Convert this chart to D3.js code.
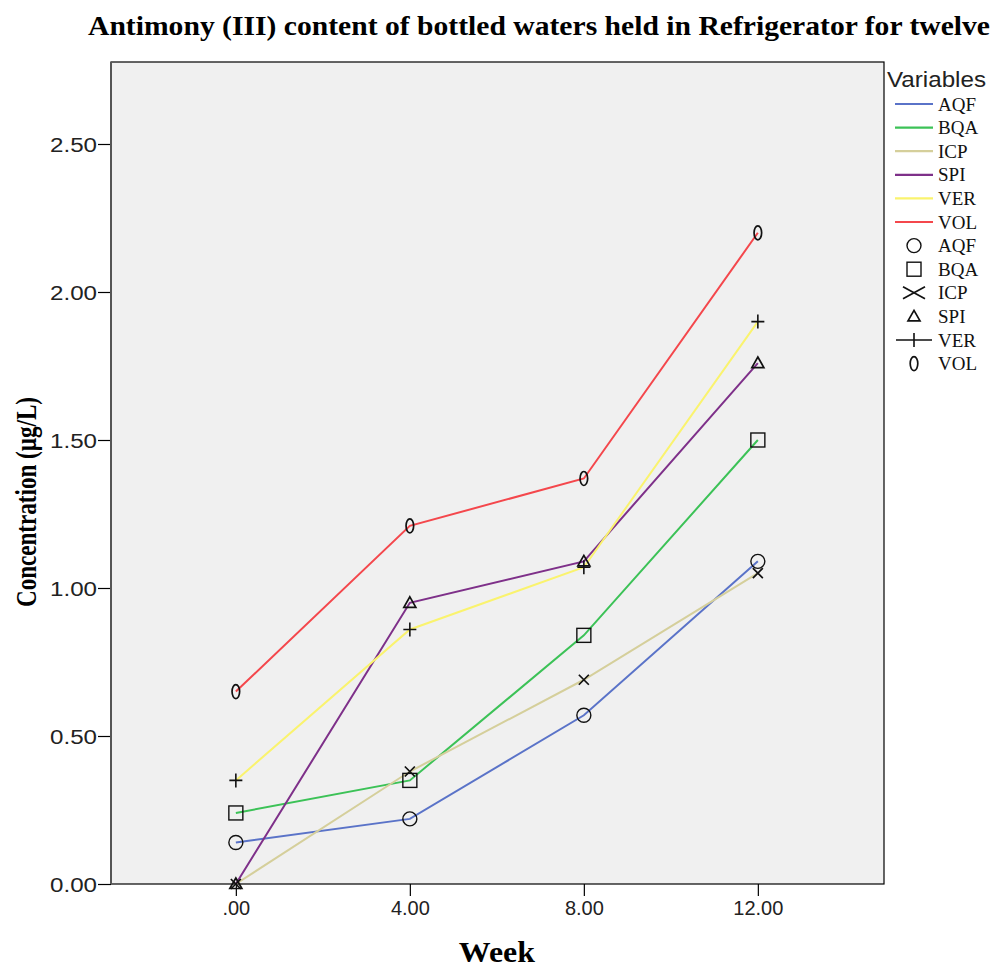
<!DOCTYPE html>
<html>
<head>
<meta charset="utf-8">
<script src="https://cdn.jsdelivr.net/npm/d3@7"></script>
<style>
  html, body { margin: 0; padding: 0; background: #fff; }
  svg { display: block; }
</style>
</head>
<body>
<svg id="chart" width="993" height="967"></svg>
<script>
// ---- data ----
const weeks = [0, 4, 8, 12];
const seriesNames = ["AQF", "BQA", "ICP", "SPI", "VER", "VOL"];
const AQF = [0.14, 0.22, 0.57, 1.09];
const BQA = [0.24, 0.35, 0.84, 1.50];
const ICP = [0.00, 0.38, 0.69, 1.05];
const SPI = [0.00, 0.95, 1.09, 1.76];
const VER = [0.35, 0.86, 1.07, 1.90];
const VOL = [0.65, 1.21, 1.37, 2.20];
const yTicks = [0, 0.5, 1.0, 1.5, 2.0, 2.5];
const xTicks = [0, 4, 8, 12];
const titleText = "Antimony (III) content of bottled waters held in Refrigerator for twelve";

const seriesValues = { AQF, BQA, ICP, SPI, VER, VOL };
const colors = { AQF: "#5a73c8", BQA: "#3cc257", ICP: "#d5cf9b", SPI: "#7e3089", VER: "#faf36e", VOL: "#f4474c" };
const markers = { AQF: "circle", BQA: "square", ICP: "x", SPI: "triangle", VER: "plus", VOL: "zero" };

const serif = "Liberation Serif, Times New Roman, serif";
const sans = "Liberation Sans, Arial, sans-serif";

const svg = d3.select("#chart");
const L = 111, R = 884, T = 62, B = 884;

const x = d3.scaleLinear().domain([-2.87, 14.9]).range([L, R]);
const y = d3.scaleLinear().domain([0, 2.777]).range([B, T]);

// plot background
svg.append("rect").attr("x", L).attr("y", T).attr("width", R - L).attr("height", B - T)
  .attr("fill", "#f0f0f0").attr("stroke", "none");

// title
svg.append("text").attr("x", 88).attr("y", 35)
  .attr("font-family", serif).attr("font-weight", "bold").attr("font-size", 28)
  .attr("textLength", 902).attr("lengthAdjust", "spacingAndGlyphs")
  .text(titleText);

// axes
const yAxis = d3.axisLeft(y).tickValues(yTicks).tickFormat(d3.format(".2f")).tickSize(13).tickPadding(1);
const gy = svg.append("g").attr("transform", `translate(${L},0)`).call(yAxis);
const xAxis = d3.axisBottom(x).tickValues(xTicks)
  .tickFormat(d => d === 0 ? ".00" : d3.format(".2f")(d)).tickSize(12).tickPadding(5);
const gx = svg.append("g").attr("transform", `translate(0,${B})`).call(xAxis);
[gx, gy].forEach(g => {
  g.select(".domain").remove();
  g.selectAll(".tick line").attr("stroke", "#000").attr("stroke-width", 1.2);
  g.selectAll(".tick text").attr("font-family", sans).attr("fill", "#222");
});
gy.selectAll(".tick text").attr("font-size", 20).attr("dy", "0.36em")
  .attr("textLength", 47).attr("lengthAdjust", "spacingAndGlyphs");
gx.selectAll(".tick text").attr("font-size", 20);

// plot border
svg.append("rect").attr("x", L).attr("y", T).attr("width", R - L).attr("height", B - T)
  .attr("fill", "none").attr("stroke", "#000").attr("stroke-width", 1.2);
svg.append("line").attr("x1", L).attr("x2", L).attr("y1", T).attr("y2", B)
  .attr("stroke", "#555").attr("stroke-width", 2);

// axis titles
svg.append("text").attr("x", x(6)).attr("y", 962).attr("text-anchor", "middle")
  .attr("font-family", serif).attr("font-weight", "bold").attr("font-size", 30)
  .attr("textLength", 76).attr("lengthAdjust", "spacingAndGlyphs").text("Week");
svg.append("text").attr("transform", `translate(36,502) rotate(-90)`)
  .attr("text-anchor", "middle")
  .attr("font-family", serif).attr("font-weight", "bold").attr("font-size", 29)
  .attr("textLength", 210).attr("lengthAdjust", "spacingAndGlyphs").text("Concentration (µg/L)");

// lines
const line = d3.line().x((d, i) => x(weeks[i])).y(d => y(d));
const plotG = svg.append("g");
seriesNames.forEach(n => {
  plotG.append("path").datum(seriesValues[n]).attr("d", line)
    .attr("fill", "none").attr("stroke", colors[n]).attr("stroke-width", 2);
});

function drawMarker(g, type, cx, cy, big) {
  const s = "#111", w = 1.4;
  if (type === "circle") {
    g.append("circle").attr("cx", cx).attr("cy", cy).attr("r", 7).attr("fill", "none").attr("stroke", s).attr("stroke-width", w);
  } else if (type === "square") {
    g.append("rect").attr("x", cx - 7).attr("y", cy - 7).attr("width", 14).attr("height", 14).attr("fill", "none").attr("stroke", s).attr("stroke-width", w);
  } else if (type === "x") {
    const a = big ? 11 : 5, b = big ? 6 : 5;
    g.append("path").attr("d", `M${cx - a},${cy - b}L${cx + a},${cy + b}M${cx - a},${cy + b}L${cx + a},${cy - b}`)
      .attr("stroke", s).attr("stroke-width", w + 0.3).attr("fill", "none");
  } else if (type === "triangle") {
    g.append("path").attr("d", `M${cx},${cy - 6}L${cx + 6},${cy + 4.5}L${cx - 6},${cy + 4.5}Z`)
      .attr("fill", "none").attr("stroke", s).attr("stroke-width", w + 0.3);
  } else if (type === "plus") {
    const a = big ? 18 : 6.5;
    g.append("path").attr("d", `M${cx - a},${cy}L${cx + a},${cy}M${cx},${cy - 7}L${cx},${cy + 7}`)
      .attr("stroke", s).attr("stroke-width", w + 0.2).attr("fill", "none");
  } else if (type === "zero") {
    g.append("ellipse").attr("cx", cx).attr("cy", cy).attr("rx", 3.8).attr("ry", 7)
      .attr("fill", "none").attr("stroke", s).attr("stroke-width", w + 0.3);
  }
}

// markers
const markG = svg.append("g");
seriesNames.forEach(n => {
  seriesValues[n].forEach((v, i) => drawMarker(markG, markers[n], x(weeks[i]), y(v), false));
});

// legend
svg.append("text").attr("x", 887).attr("y", 87).attr("font-family", sans)
  .attr("font-size", 22).attr("fill", "#222")
  .attr("textLength", 99).attr("lengthAdjust", "spacingAndGlyphs").text("Variables");
const rowH = 23.6, row0 = 104;
const legG = svg.append("g");
seriesNames.forEach((n, i) => {
  const cy = row0 + i * rowH;
  legG.append("line").attr("x1", 895).attr("x2", 933).attr("y1", cy).attr("y2", cy)
    .attr("stroke", colors[n]).attr("stroke-width", 2.2);
  legG.append("text").attr("x", 938).attr("y", cy + 6.5).attr("font-family", serif)
    .attr("font-size", 19).attr("fill", "#111").text(n);
});
seriesNames.forEach((n, i) => {
  const cy = row0 + (i + 6) * rowH;
  drawMarker(legG, markers[n], 914, cy, true);
  legG.append("text").attr("x", 938).attr("y", cy + 6.5).attr("font-family", serif)
    .attr("font-size", 19).attr("fill", "#111").text(n);
});
</script>
</body>
</html>
